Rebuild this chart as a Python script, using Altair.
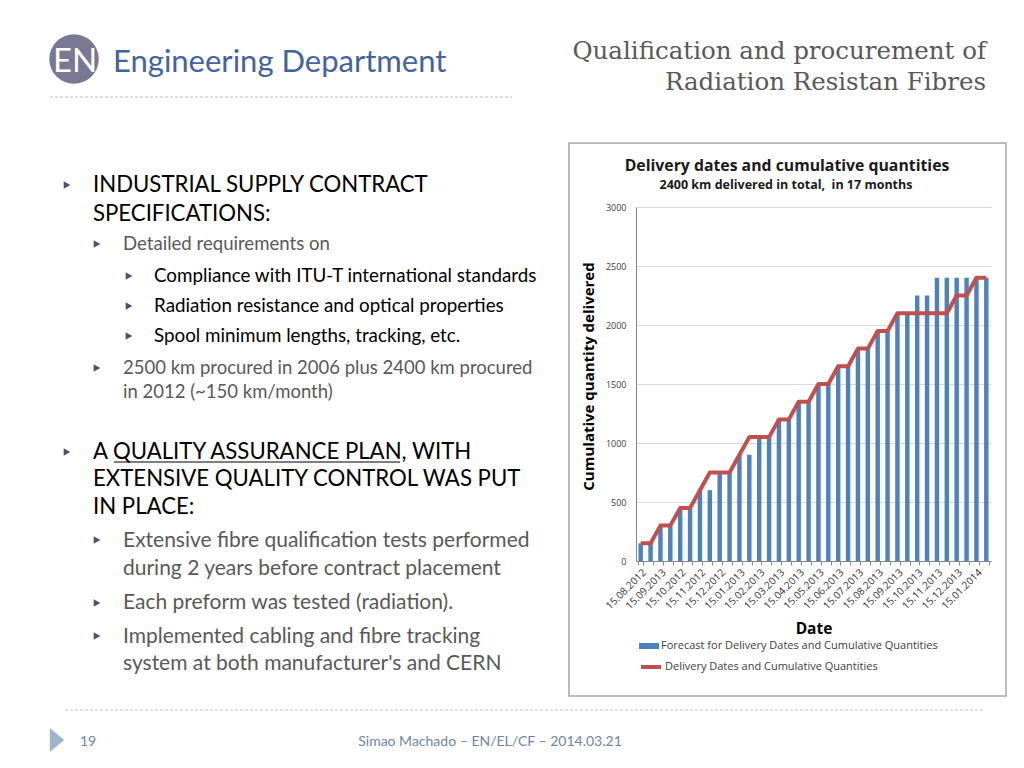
import altair as alt
import pandas as pd

# ---------------- data ----------------
tick_labels = ["15.08.2012", "15.09.2013", "15.10.2012", "15.11.2012", "15.12.2012",
               "15.01.2013", "15.02.2013", "15.03.2013", "15.04.2013", "15.05.2013",
               "15.06.2013", "15.07.2013", "15.08.2013", "15.09.2013", "15.10.2013",
               "15.11.2013", "15.12.2013", "15.01.2014"]
period = list(range(36))
forecast = [150, 150, 300, 300, 450, 450, 600, 600, 750, 750, 900, 900,
            1050, 1050, 1200, 1200, 1350, 1350, 1500, 1500, 1650, 1650, 1800, 1800,
            1950, 1950, 2100, 2100, 2250, 2250, 2400, 2400, 2400, 2400, 2400, 2400]
delivered = [150, 150, 300, 300, 450, 450, 600, 750, 750, 750, 900, 1050,
             1050, 1050, 1200, 1200, 1350, 1350, 1500, 1500, 1650, 1650, 1800, 1800,
             1950, 1950, 2100, 2100, 2100, 2100, 2100, 2100, 2250, 2250, 2400, 2400]
series_forecast = "Forecast for Delivery Dates and Cumulative Quantities"
series_delivered = "Delivery Dates and Cumulative Quantities"

df = pd.DataFrame({"period": period, "forecast": forecast, "delivered": delivered})
one = pd.DataFrame({"k": [0]})

# view origin on the page (plot area top-left); page = svg + 8px margin
OX, OY = 636, 207
CH = "Open Sans"
BODY = "Lato"


def txt(s, px, py, size, color="#000000", font=BODY, weight="normal", align="left"):
    return alt.Chart(one).mark_text(
        text=s, fontSize=size, color=color, font=font, fontWeight=weight,
        align=align, baseline="alphabetic"
    ).encode(x=alt.value(px - OX), y=alt.value(py - OY))


def bullet(px, py, size=58, color="#4a5468", shape="triangle-right"):
    return alt.Chart(one).mark_point(shape=shape, filled=True, size=size, color=color,
                                     opacity=1, strokeWidth=0).encode(
        x=alt.value(px - OX), y=alt.value(py - OY))


def hline(x1, x2, py, color, dash=None, width=1.0):
    kw = dict(color=color, strokeWidth=width)
    if dash:
        kw["strokeDash"] = dash
    return alt.Chart(one).mark_rule(**kw).encode(
        x=alt.value(x1 - OX), x2=alt.value(x2 - OX), y=alt.value(py - OY))


labels_js = "[" + ",".join("'%s'" % s for s in tick_labels) + "]"
label_expr = "datum.value % 2 === 0 ? " + labels_js + "[datum.value / 2] : ''"

y_title = "Cumulative quantity delivered"

# ---------------- chart ----------------
box = alt.Chart(one).mark_rect(fill="transparent", stroke="#a6a6a6", strokeWidth=1.5).encode(
    x=alt.value(569 - OX), x2=alt.value(1006 - OX),
    y=alt.value(143 - OY), y2=alt.value(696 - OY))

bars = alt.Chart(df).transform_calculate(s1="'" + series_forecast + "'").mark_bar().encode(
    x=alt.X("period:O", title="Date",
            scale=alt.Scale(paddingInner=0.55, paddingOuter=0.25),
            axis=alt.Axis(labelExpr=label_expr, labelAngle=-45, labelFont=CH,
                          labelFontSize=10.2, labelColor="#333333", labelOverlap=False,
                          labelPadding=2, tickColor="#868686", tickSize=4, tickBand="extent",
                          domainColor="#868686", grid=False,
                          titleFont=CH, titleFontSize=15.5, titleFontWeight="bold",
                          titleColor="#000000", titleY=72, titleBaseline="alphabetic")),
    y=alt.Y("forecast:Q", title=y_title,
            scale=alt.Scale(domain=[0, 3000], nice=False),
            axis=alt.Axis(values=[0, 500, 1000, 1500, 2000, 2500, 3000], format="d",
                          labelFont=CH, labelFontSize=9, labelColor="#404040",
                          ticks=False, labelPadding=10, domainColor="#868686",
                          gridColor="#d9d9d9", titleFont=CH, titleFontSize=15,
                          titleFontWeight="bold", titleColor="#000000", titlePadding=9,
                          titleY=169)),
    fill=alt.Fill("s1:N", scale=alt.Scale(range=["#4f81bd"]),
                  legend=alt.Legend(title=None, orient="none", legendX=3, legendY=429,
                                    padding=0, symbolType="M-1,-0.3H1V0.3H-1Z",
                                    symbolSize=400, symbolStrokeWidth=0,
                                    labelFont=CH, labelFontSize=11, labelLimit=400,
                                    labelColor="#404040", labelOffset=2)),
)

line = alt.Chart(df).transform_calculate(s2="'" + series_delivered + "'").mark_line(
    strokeWidth=4, strokeJoin="round").encode(
    x=alt.X("period:O", title="Date"),
    y=alt.Y("delivered:Q", title=y_title),
    stroke=alt.Stroke("s2:N", scale=alt.Scale(range=["#c0504d"]),
                      legend=alt.Legend(title=None, orient="none", legendX=3, legendY=448,
                                        padding=0, symbolType="stroke", symbolSize=400,
                                        symbolStrokeWidth=4, labelFont=CH, labelLimit=400,
                                        labelFontSize=11, labelColor="#404040",
                                        labelOffset=2)),
)

chart_title = txt("Delivery dates and cumulative quantities", 787, 171, 15.8, "#1a1a1a",
                  CH, "bold", "center")
chart_sub = txt("2400 km delivered in total,\u00a0 in 17 months", 786, 189, 12.5, "#1a1a1a",
                CH, "bold", "center")

# ---------------- slide decorations ----------------
logo = bullet(74, 59, size=2450, color="#7b7893", shape="circle")
logo_txt = txt("EN", 75, 72, 33, "#ffffff", "Lato", "normal", "center")
dept = txt("Engineering Department", 113, 72, 31, "#4463a0")
head_line = hline(50, 512, 97, "#b7c4d4", [3, 2])
title1 = txt("Qualification and procurement of", 986, 59, 24.5, "#595959", "DejaVu Serif",
             "normal", "right")
title2 = txt("Radiation Resistan Fibres", 986, 90, 24.5, "#595959", "DejaVu Serif",
             "normal", "right")

L1, L2, L3 = 93, 123, 154
body = [
    txt("INDUSTRIAL SUPPLY CONTRACT", L1, 192, 22.2),
    txt("SPECIFICATIONS:", L1, 221, 22.2),
    txt("Detailed requirements on", L2, 250, 18.6, "#595959"),
    txt("Compliance with ITU-T international standards", L3, 282, 18.8),
    txt("Radiation resistance and optical properties", L3, 312, 18.8),
    txt("Spool minimum lengths, tracking, etc.", L3, 342, 18.8),
    txt("2500 km procured in 2006 plus 2400 km procured", L2, 374, 18.5, "#595959"),
    txt("in 2012 (~150 km/month)", L2, 398, 18.5, "#595959"),
    txt("A QUALITY ASSURANCE PLAN, WITH", L1, 459, 22.2),
    txt("EXTENSIVE QUALITY CONTROL WAS PUT", L1, 486, 22.2),
    txt("IN PLACE:", L1, 514, 22.2),
    txt("Extensive fibre qualification tests performed", L2, 547, 21, "#595959"),
    txt("during 2 years before contract placement", L2, 575, 21, "#595959"),
    txt("Each preform was tested (radiation).", L2, 609, 21, "#595959"),
    txt("Implemented cabling and fibre tracking", L2, 643, 21, "#595959"),
    txt("system at both manufacturer's and CERN", L2, 670, 21, "#595959"),
    hline(114, 400, 462, "#000000", None, 1.2),
]
bullets = [bullet(67, 185), bullet(97, 244), bullet(129, 276), bullet(129, 306),
           bullet(129, 336), bullet(97, 368), bullet(67, 452), bullet(97, 540),
           bullet(97, 603), bullet(97, 636)]

foot_line = hline(65, 985, 710, "#b7c4d4", [3, 2])
foot_tri = alt.Chart(one).mark_point(shape="M-0.6,-1L0.6,0L-0.6,1Z", filled=True, size=576,
                                     color="#9fb5cc", opacity=1, strokeWidth=0).encode(
    x=alt.value(57 - OX), y=alt.value(740 - OY))
foot_num = txt("19", 80, 746, 14, "#7085a6")
foot_txt = txt("Simao Machado \u2013 EN/EL/CF \u2013 2014.03.21", 490, 746, 14, "#7085a6",
               BODY, "normal", "center")

layers = [box, logo, logo_txt, dept, head_line, title1, title2] + body + bullets + \
         [foot_line, foot_tri, foot_num, foot_txt, chart_title, chart_sub, bars, line]

chart = alt.layer(*layers).properties(
    width=355, height=354,
    autosize=alt.AutoSizeParams(type="none"),
    padding={"left": 628, "top": 199, "right": 25, "bottom": 199},
).configure(background="white").configure_view(stroke="transparent")

chart.save("out.html", embed_options={"renderer": "svg", "actions": False})
